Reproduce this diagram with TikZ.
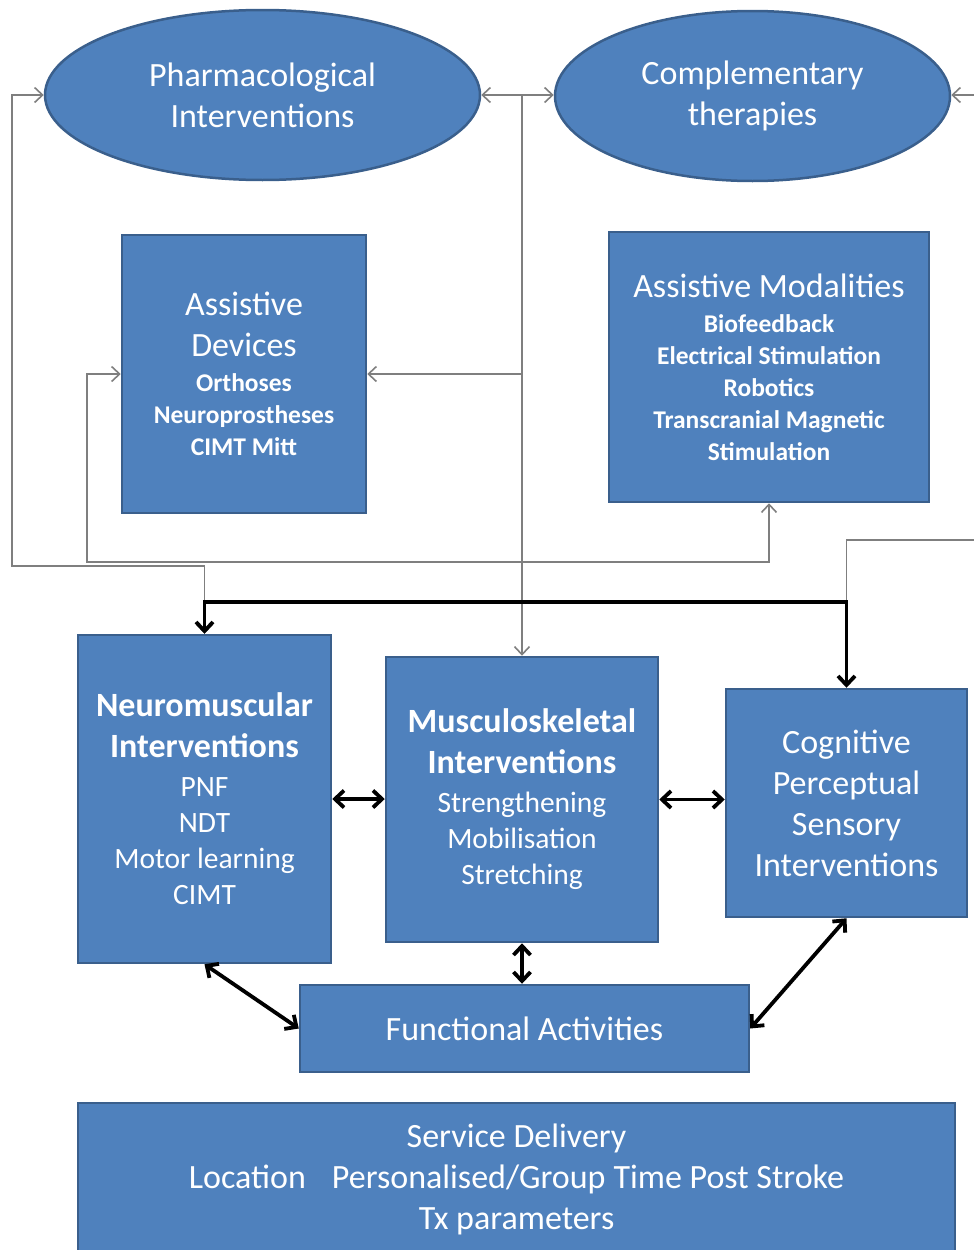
\documentclass[tikz,border=0pt]{standalone}
\usepackage{fontspec}
\setmainfont{Carlito}
\usetikzlibrary{shapes.geometric,arrows.meta}
\definecolor{boxfill}{HTML}{4F81BD}
\definecolor{boxline}{HTML}{3A5F8C}
\definecolor{linkgray}{HTML}{7F7F7F}
\newcommand\ttsz{\fontsize{34}{41}\selectfont}
\newcommand\sbit{\fontsize{25.5}{32}\selectfont\bfseries}
\newcommand\mbit{\fontsize{29.5}{36}\selectfont}
\tikzset{
  bluebox/.style={draw=boxline, line width=2.5pt, fill=boxfill, text=white, align=center, inner sep=0pt},
  rbox/.style={bluebox, rectangle},
  ebox/.style={bluebox, ellipse},
  graylink/.style={draw=linkgray, line width=1.6pt},
  graytip/.tip={Straight Barb[length=8pt,width=15pt,line width=1.6pt]},
  blacklink/.style={draw=black, line width=3.8pt},
  blacktip/.tip={Straight Barb[length=9pt,width=17pt,line width=3.8pt]},
}
\begin{document}
\begin{tikzpicture}[x=1pt,y=-1pt]
\useasboundingbox (0,0) rectangle (974,1250);

% ellipses
\node[ebox, font=\ttsz, minimum width=435pt, minimum height=170pt] (pharm) at (262.5,95)
  {Pharmacological\\Interventions};
\node[ebox, font=\ttsz, minimum width=395pt, minimum height=170pt] (comp) at (752.5,96)
  {Complementary\\therapies};

% assistive boxes
\node[rbox, font=\ttsz, minimum width=244pt, minimum height=278pt] (ad) at (244,374)
  {Assistive\\Devices\\[-6pt]\sbit Orthoses\\[-9pt]\sbit Neuroprostheses\\[-9pt]\sbit CIMT Mitt};
\node[rbox, font=\ttsz, minimum width=320pt, minimum height=270pt] (am) at (769,367)
  {Assistive Modalities\\[-6pt]\sbit Biofeedback\\[-9pt]\sbit Electrical Stimulation\\[-9pt]\sbit Robotics\\[-9pt]\sbit Transcranial Magnetic\\[-9pt]\sbit Stimulation};

% intervention boxes
\node[rbox, font=\ttsz, minimum width=253pt, minimum height=328pt] (nm) at (204.5,799)
  {\bfseries Neuromuscular\\\bfseries Interventions\\[-2pt]\mbit PNF\\[-5pt]\mbit NDT\\[-5pt]\mbit Motor learning\\[-5pt]\mbit CIMT};
\node[rbox, font=\ttsz, minimum width=272pt, minimum height=285pt] (ms) at (522,799.5)
  {\bfseries Musculoskeletal\\\bfseries Interventions\\[-2pt]\mbit Strengthening\\[-5pt]\mbit Mobilisation\\[-5pt]\mbit Stretching};
\node[rbox, font=\ttsz, minimum width=241pt, minimum height=228pt] (cg) at (846.5,803)
  {Cognitive\\Perceptual\\Sensory\\Interventions};

% functional / service
\node[rbox, font=\fontsize{34}{41}\selectfont, minimum width=449pt, minimum height=87pt] (fa) at (524.5,1028.5)
  {Functional Activities};
\node[rbox, font=\fontsize{34}{41}\selectfont, minimum width=877pt, minimum height=152pt] (sd) at (516.5,1179)
  {Service Delivery\\Location\hspace{26pt}Personalised/Group\hspace{8pt}Time Post Stroke\\Tx parameters};

% coordinates for connector bends
\coordinate (p1) at (12,566);
\coordinate (q1) at (87,562);
\coordinate (t1) at (ms.north |- pharm.east);
\coordinate (r1) at (cg.north |- 0,602);
\coordinate (e1) at (974,95);
\coordinate (e2) at (974,540);

% gray connectors
\draw[graylink, graytip-graytip] (pharm.west) -| (p1) -| (nm.north);
\draw[graylink, graytip-graytip] (ad.west) -| (q1) -| (am.south);
\draw[graylink, graytip-graytip] (pharm.east) -- (pharm.east -| comp.west);
\draw[graylink, -graytip] (t1) -- (ms.north);
\draw[graylink, -graytip] (t1 |- ad.east) -- (ad.east);
\draw[graylink, -graytip] (e1) -- (e1 -| comp.east);
\draw[graylink] (e2) -| (r1);

% black connectors
\draw[blacklink, blacktip-blacktip] (nm.north) |- (r1) -- (cg.north);
\draw[blacklink, blacktip-blacktip] (nm.east) -- (nm.east -| ms.west);
\draw[blacklink, blacktip-blacktip] (ms.east) -- (ms.east -| cg.west);
\draw[blacklink, blacktip-blacktip] (ms.south) -- (ms.south |- fa.north);
\draw[blacklink, blacktip-blacktip] (nm.south) -- (fa.west);
\draw[blacklink, blacktip-blacktip] (cg.south) -- (fa.east);
\end{tikzpicture}
\end{document}
